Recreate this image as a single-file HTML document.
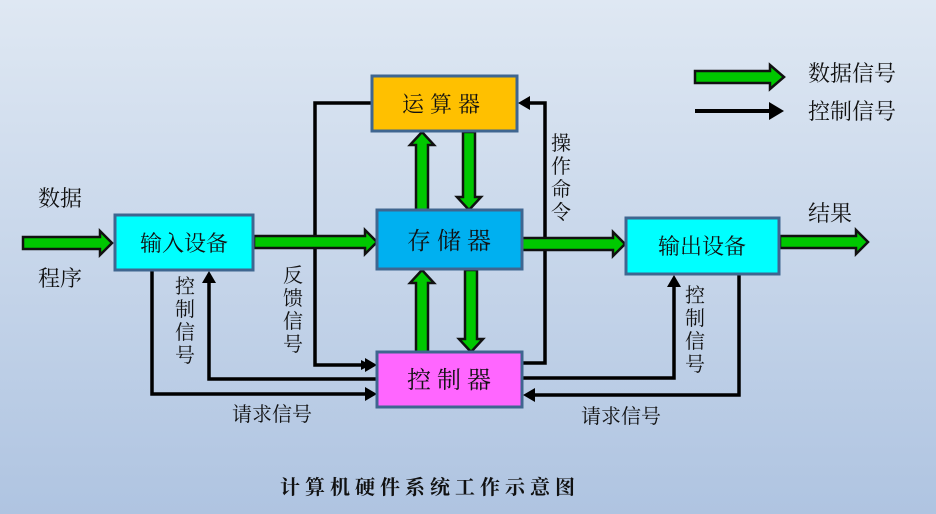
<!DOCTYPE html>
<html><head><meta charset="utf-8"><style>
html,body{margin:0;padding:0}
body{width:936px;height:514px;overflow:hidden;background:linear-gradient(#dfe8f3,#afc4e1);}
svg{display:block}
text{font-family:"Liberation Serif","Noto Serif CJK SC","Noto Sans CJK SC",serif;fill:#111;}
.g{fill:#00c800;stroke:#111;stroke-width:2.5;stroke-linejoin:miter}
.k{fill:none;stroke:#000;stroke-width:3.5}
.b{stroke:#3f6690;stroke-width:3}
</style></head><body>
<svg width="936" height="514" viewBox="0 0 936 514">
<defs>
<marker id="ah" markerWidth="10" markerHeight="10" refX="8" refY="5" orient="auto" markerUnits="userSpaceOnUse" viewBox="0 0 10 10">
<path d="M0,0 L10,5 L0,10 z" fill="#000"/></marker>
</defs>
<!-- black lines -->
<polyline class="k" points="371,103 315,103 315,365 369,365" marker-end="url(#ah)" style="marker-end:url(#ah)"/>
<polyline class="k" points="377,379 209,379 209,279"/>
<polygon points="209,271 202,283 216,283" fill="#000"/>
<polyline class="k" points="152,271 152,394 369,394"/>
<polygon points="377,394 365,387 365,401" fill="#000"/>
<polygon points="377,365 365,358 365,372" fill="#000"/>
<polyline class="k" points="522,363 545,363 545,103 527,103"/>
<polygon points="518,103 530,96 530,110" fill="#000"/>
<polyline class="k" points="522,378 674,378 674,283"/>
<polygon points="674,275 667,287 681,287" fill="#000"/>
<polyline class="k" points="739,275 739,395 532,395"/>
<polygon points="523,395 535,388 535,402" fill="#000"/>
<!-- legend -->
<polygon class="g" points="695,71 770,71 770,65 784,77 770,89 770,83 695,83"/>
<line x1="695" y1="111" x2="770" y2="111" stroke="#000" stroke-width="4"/>
<polygon points="784,111 769,102 769,120" fill="#000"/>
<text x="808" y="81" font-size="22">数据信号</text>
<text x="808" y="119" font-size="22">控制信号</text>
<!-- green horizontal arrows -->
<polygon class="g" points="23,237 100,237 100,231 112,243 100,255 100,249 23,249"/>
<polygon class="g" points="254,236 365,236 365,230 377,242 365,254 365,248 254,248"/>
<polygon class="g" points="522,238 613,238 613,232 625,244 613,256 613,250 522,250"/>
<polygon class="g" points="780,236 856,236 856,230 868,242 856,254 856,248 780,248"/>
<!-- green vertical arrows -->
<polygon class="g" points="416,210 416,145 410,145 422,132 434,145 428,145 428,210"/>
<polygon class="g" points="463,132 463,197 457,197 469,210 481,197 475,197 475,132"/>
<polygon class="g" points="416,352 416,283 410,283 422,270 434,283 428,283 428,352"/>
<polygon class="g" points="465,270 465,339 459,339 471,352 483,339 477,339 477,270"/>
<!-- boxes -->
<rect class="b" x="372" y="76" width="145" height="55" fill="#ffc000"/>
<rect class="b" x="377" y="210" width="145" height="59" fill="#00b0f0"/>
<rect class="b" x="115" y="215" width="138" height="55" fill="#00ffff"/>
<rect class="b" x="377" y="352" width="145" height="55" fill="#ff66ff"/>
<rect class="b" x="626" y="218" width="153" height="56" fill="#00ffff"/>
<text x="444" y="112" font-size="22" text-anchor="middle" letter-spacing="6">运算器</text>
<text x="452" y="249" font-size="24" text-anchor="middle" letter-spacing="6">存储器</text>
<text x="184" y="251" font-size="22" text-anchor="middle">输入设备</text>
<text x="452" y="388" font-size="24" text-anchor="middle" letter-spacing="6">控制器</text>
<text x="702" y="254" font-size="22" text-anchor="middle">输出设备</text>
<!-- labels -->
<text x="38" y="206" font-size="22">数据</text>
<text x="38" y="286" font-size="22">程序</text>
<text x="808" y="221" font-size="22">结果</text>
<g font-size="20">
<text x="175" y="293">控</text><text x="175" y="316">制</text><text x="175" y="339">信</text><text x="175" y="362">号</text>
<text x="283" y="282">反</text><text x="283" y="305">馈</text><text x="283" y="328">信</text><text x="283" y="351">号</text>
<text x="551" y="150">操</text><text x="551" y="173">作</text><text x="551" y="196">命</text><text x="551" y="219">令</text>
<text x="685" y="302">控</text><text x="685" y="325">制</text><text x="685" y="348">信</text><text x="685" y="371">号</text>
<text x="232" y="421">请求信号</text>
<text x="581" y="423">请求信号</text>
</g>
<text x="280" y="494" font-size="20" letter-spacing="5" font-weight="bold">计算机硬件系统工作示意图</text>
</svg>
</body></html>
